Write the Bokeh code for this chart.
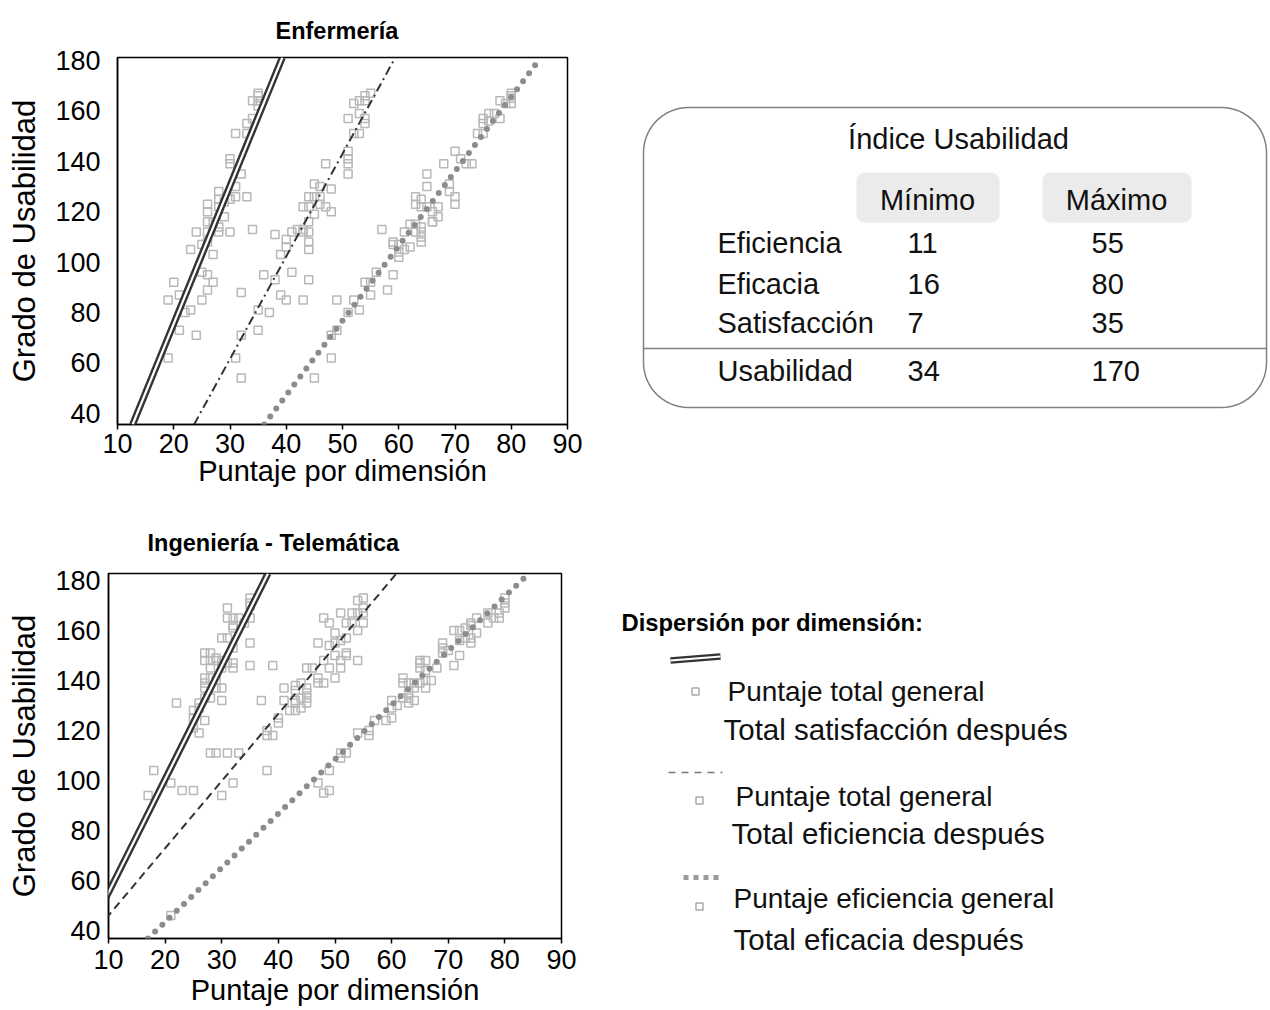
import numpy as np
from bokeh.plotting import figure
from bokeh.models import Range1d, FixedTicker, Slope, Title
from bokeh.layouts import row, column
from bokeh.embed import file_html
from bokeh.resources import INLINE
from bokeh.core.properties import value

FONT = "Liberation Sans"

# ---------------- data ----------------
x_ticks = [10, 20, 30, 40, 50, 60, 70, 80, 90]
y_ticks = [40, 60, 80, 100, 120, 140, 160, 180]

# Enfermería: (puntaje dimensión, puntaje total general)
enf_satisfaccion = [(35,167),(35,166),(35,164),(34,164),(35,162),(33,155),(34,157),(31,151),(33,151),
    (30,141),(30,139),(32,135),(31,130),(31,126),(33,126),(28,128),(28,125),(29,124),(30,125),(26,123),
    (26,120),(28,122),(29,118),(26,116),(27,116),(28,114),(24,112),(26,112),(28,112),(30,112),(34,113),
    (26,108),(25,107),(23,105),(27,103),(25,96),(26,95),(27,92),(20,92),(26,89),(21,87),(19,85),(25,85),
    (23,81),(22,80),(32,88),(21,73),(24,71),(19,62)]
enf_eficiencia = [(55,167),(54,166),(53,164),(54,164),(52,163),(53,159),(54,157),(54,155),(51,157),
    (52,151),(53,151),(51,144),(51,141),(51,139),(51,135),(47,139),(45,131),(46,130),(48,129),(44,126),
    (45,126),(46,126),(46,123),(47,122),(48,120),(45,119),(44,122),(43,122),(44,116),(44,112),(43,112),
    (44,108),(44,105),(38,111),(40,109),(40,106),(41,112),(42,113),(43,113),(39,103),(36,95),(41,96),
    (38,93),(44,93),(39,87),(40,85),(43,85),(35,81),(37,80),(35,73),(32,71),(31,62),(32,54),(49,85)]
enf_eficacia = [(80,167),(80,166),(80,165),(80,163),(78,164),(79,163),(76,159),(77,159),(75,157),
    (75,155),(76,156),(78,157),(74,151),(75,151),(70,144),(71,141),(73,139),(68,139),(72,139),(65,135),
    (65,130),(69,131),(69,128),(70,126),(70,123),(63,126),(64,125),(63,123),(64,122),(65,122),(66,120),
    (67,118),(67,122),(66,116),(62,115),(63,115),(64,114),(64,112),(64,110),(64,108),(63,112),(61,112),
    (59,108),(60,107),(62,106),(61,105),(66,116),(59,107),(60,104),(60,102),(56,96),(59,95),(54,92),
    (55,92),(55,87),(58,89),(52,85),(53,81),(51,80),(49,73),(48,71),(48,62),(45,54),(57,113)]

# Ingeniería - Telemática
tel_satisfaccion = [(35,173),(35,171),(35,170),(31,169),(31,165),(32,165),(33,165),(34,163),(32,161),
    (32,162),(35,165),(30,157),(31,157),(32,153),(35,155),(27,151),(28,151),(29,149),(27,148),(28,148),
    (29,148),(30,148),(31,147),(28,145),(30,145),(32,147),(32,145),(35,146),(27,141),(28,141),(27,139),
    (29,140),(30,137),(29,137),(27,137),(27,133),(28,133),(30,132),(26,131),(26,129),(25,128),(25,125),
    (27,124),(25,121),(26,119),(22,131),(28,111),(29,111),(31,111),(33,111),(18,104),(21,99),(23,96),
    (25,96),(17,94),(30,94),(32,99)]
tel_eficiencia = [(55,173),(54,172),(55,169),(54,167),(55,167),(55,163),(51,167),(53,167),(48,165),
    (49,163),(52,163),(53,163),(54,160),(50,159),(52,157),(50,155),(47,155),(49,154),(51,156),(52,151),
    (50,150),(52,150),(54,148),(51,148),(48,148),(49,145),(51,145),(45,145),(46,145),(47,141),(48,139),
    (47,139),(50,141),(44,139),(45,137),(45,135),(45,133),(44,133),(43,131),(45,131),(43,128),(41,137),
    (43,136),(41,132),(43,132),(42,128),(44,129),(43,138),(37,132),(40,125),(40,123),(38,120),(39,118),
    (38,118),(39,146),(38,104)]
tel_eficacia = [(80,173),(80,171),(80,169),(79,167),(79,165),(78,165),(77,167),(77,163),(75,165),
    (74,163),(74,162),(75,159),(73,161),(72,160),(71,160),(74,157),(74,155),(73,157),(72,156),(69,155),
    (69,153),(70,152),(69,151),(72,150),(71,146),(65,148),(65,147),(66,148),(65,145),(66,144),(68,145),
    (67,140),(66,137),(66,140),(64,139),(62,141),(62,139),(63,139),(65,139),(64,137),(63,135),(63,133),
    (63,131),(64,132),(62,133),(60,132),(61,130),(60,129),(60,125),(59,124),(57,124),(56,120),(56,118),
    (54,119),(52,111),(51,111),(51,109),(49,104),(47,99),(48,95),(49,96),(21,46)]

# fitted lines (satisfacción, eficiencia, eficacia): y = intercept + slope * x
enf_fit_intercept = [-33.8, -60.5, -71.2]
enf_fit_slope = [5.47, 4.07, 2.96]
tel_fit_intercept = [9.9, 19.1, 0.0]
tel_fit_slope = [4.53, 2.69, 2.17]

# table
tabla_titulo = "Índice Usabilidad"
tabla_columnas = ["Mínimo", "Máximo"]
tabla_filas = ["Eficiencia", "Eficacia", "Satisfacción"]
tabla_min = [11, 16, 7]
tabla_max = [55, 80, 35]
total_fila = "Usabilidad"
total_min = 34
total_max = 170

leyenda_titulo = "Dispersión por dimensión:"
leyenda_textos = [("Puntaje total general", "Total satisfacción después"),
                  ("Puntaje total general", "Total eficiencia después"),
                  ("Puntaje eficiencia general", "Total eficacia después")]

SQ_COLOR = "#b8b8b8"
DARK = "#333333"
DOT = "#8c8c8c"


def scatter_panel(title, title_offset, title_standoff, series, intercepts, slopes, y_range,
                  borders, width, height, ylab_std, xlab_std, xaxis_std, dash):
    l, r, t, b = borders
    p = figure(width=width, height=height, x_range=Range1d(10, 90), y_range=Range1d(*y_range),
               output_backend="svg", toolbar_location=None, title=None,
               min_border_left=l, min_border_right=r, min_border_top=t, min_border_bottom=b,
               background_fill_color="white", border_fill_color="white")
    p.frame_align = False
    p.add_layout(Title(text=title, align="left", offset=title_offset, standoff=title_standoff,
                       text_font=FONT, text_font_size="23.5px", text_font_style="bold",
                       text_color="black"), "above")
    p.grid.visible = False
    p.outline_line_color = "black"
    p.outline_line_width = 1.5
    for ax in (p.xaxis[0], p.yaxis[0]):
        ax.axis_line_color = "black"
        ax.axis_line_width = 1.5
        ax.major_tick_line_color = "black"
        ax.major_tick_line_width = 1.5
        ax.minor_tick_line_color = None
        ax.major_label_text_font = FONT
        ax.major_label_text_font_size = "27px"
        ax.major_label_text_color = "black"
        ax.axis_label_text_font = FONT
        ax.axis_label_text_font_style = "normal"
        ax.axis_label_text_color = "black"
    p.xaxis.ticker = FixedTicker(ticks=x_ticks)
    p.yaxis.ticker = FixedTicker(ticks=y_ticks)
    p.xaxis.major_tick_out = 5
    p.xaxis.major_tick_in = 0
    p.xaxis.major_label_standoff = xlab_std
    p.xaxis.axis_label = "Puntaje por dimensión"
    p.xaxis.axis_label_text_font_size = "29px"
    p.xaxis.axis_label_standoff = xaxis_std
    p.yaxis.major_tick_out = 0
    p.yaxis.major_tick_in = 0
    p.yaxis.major_label_standoff = ylab_std
    p.yaxis.axis_label = "Grado de Usabilidad"
    p.yaxis.axis_label_text_font_size = "31px"
    p.yaxis.axis_label_standoff = 10

    for pts in series:
        p.scatter([q[0] for q in pts], [q[1] for q in pts], marker="square", size=8,
                  fill_color=None, line_color=SQ_COLOR, line_width=1.5)

    a, m = intercepts, slopes
    # satisfacción: double line
    p.add_layout(Slope(gradient=m[0], y_intercept=a[0], line_color=DARK, line_width=7))
    p.add_layout(Slope(gradient=m[0], y_intercept=a[0], line_color="white", line_width=2.2))
    # eficiencia: dashed
    p.add_layout(Slope(gradient=m[1], y_intercept=a[1], line_color=DARK, line_width=2, line_dash=dash))
    # eficacia: dotted
    p.add_layout(Slope(gradient=m[2], y_intercept=a[2], line_color=DOT, line_width=6,
                       line_dash="0 10", line_cap="round"))
    return p


p_enf = scatter_panel("Enfermería", 158, 27, [enf_satisfaccion, enf_eficiencia, enf_eficacia],
                      enf_fit_intercept, enf_fit_slope, (35.6, 181.2), (117, 33, 57, 76),
                      600, 500, 17, 4, -1, "9 4 2 4")
p_tel = scatter_panel("Ingeniería - Telemática", 39, 35, [tel_satisfaccion, tel_eficiencia, tel_eficacia],
                      tel_fit_intercept, tel_fit_slope, (36.8, 182.8), (108, 39, 73, 72),
                      600, 510, 8, 6, 2, "8 5")


def blank_panel(x0, x1, y0, y1):
    q = figure(width=x1 - x0, height=y1 - y0, x_range=Range1d(x0, x1), y_range=Range1d(y1, y0),
               output_backend="svg", toolbar_location=None, title=None,
               x_axis_location=None, y_axis_location=None, min_border=0,
               background_fill_color="white", border_fill_color="white")
    q.frame_align = False
    q.grid.visible = False
    q.outline_line_color = None
    return q


def rounded_rect(l, r, t, b, rad, n=16):
    xs, ys = [], []
    corners = [((r - rad, t + rad), -np.pi / 2, 0), ((r - rad, b - rad), 0, np.pi / 2),
               ((l + rad, b - rad), np.pi / 2, np.pi), ((l + rad, t + rad), np.pi, 1.5 * np.pi)]
    for (cx, cy), a0, a1 in corners:
        th = np.linspace(a0, a1, n)
        xs.extend(cx + rad * np.cos(th))
        ys.extend(cy + rad * np.sin(th))
    return xs, ys


# ---------------- table panel ----------------
pt = blank_panel(600, 1268, 0, 500)
bx, by = rounded_rect(643, 1266, 107, 407, 45)
pt.patch(bx, by, fill_color=None, line_color="#808080", line_width=1.5)
pt.line([643, 1266], [348, 348], line_color="#808080", line_width=1.5)
for (l, r) in [(856, 999), (1042, 1191)]:
    hx, hy = rounded_rect(l, r, 172, 222, 8, 6)
    pt.patch(hx, hy, fill_color="#ebebeb", line_color=None)
txt = dict(text_font=value(FONT), text_font_size="29px", text_baseline="middle", text_color="#111111")
pt.text([958], [138], [tabla_titulo], text_align="center", **txt)
pt.text([927, 1116], [199, 199], tabla_columnas, text_align="center", **txt)
row_y = [242, 283, 322]
pt.text([717] * 3, row_y, tabla_filas, text_align="left", **txt)
pt.text([907] * 3, row_y, [str(v) for v in tabla_min], text_align="left", **txt)
pt.text([1091] * 3, row_y, [str(v) for v in tabla_max], text_align="left", **txt)
pt.text([717, 907, 1091], [370] * 3, [total_fila, str(total_min), str(total_max)], text_align="left", **txt)

# ---------------- legend panel ----------------
pl = blank_panel(600, 1268, 500, 1010)
pl.text([621], [622], [leyenda_titulo], text_font=value(FONT), text_font_size="23.8px",
        text_font_style="bold", text_baseline="middle", text_align="left", text_color="black")
pl.line([670, 720], [660, 656], line_color=DARK, line_width=6.5)
pl.line([670, 720], [660, 656], line_color="white", line_width=2)
pl.line([668, 722], [772, 772], line_color="#777777", line_width=1.5, line_dash="7 6")
pl.line([683, 722], [877, 877], line_color="#999999", line_width=5, line_dash="5 5")
pl.scatter([695, 699, 699], [691, 800, 906], marker="square", size=7, fill_color=None,
           line_color="#aaaaaa", line_width=1.5)
ltxt = dict(text_font=value(FONT), text_baseline="middle", text_align="left", text_color="#111111")
pl.text([727, 735, 733], [691, 796, 898], [t[0] for t in leyenda_textos], text_font_size="28px", **ltxt)
pl.text([723, 731, 733], [729, 833, 939], [t[1] for t in leyenda_textos], text_font_size="29.5px", **ltxt)

layout = row(column(p_enf, p_tel), column(pt, pl))
open("out.html", "w").write(file_html(layout, INLINE))
